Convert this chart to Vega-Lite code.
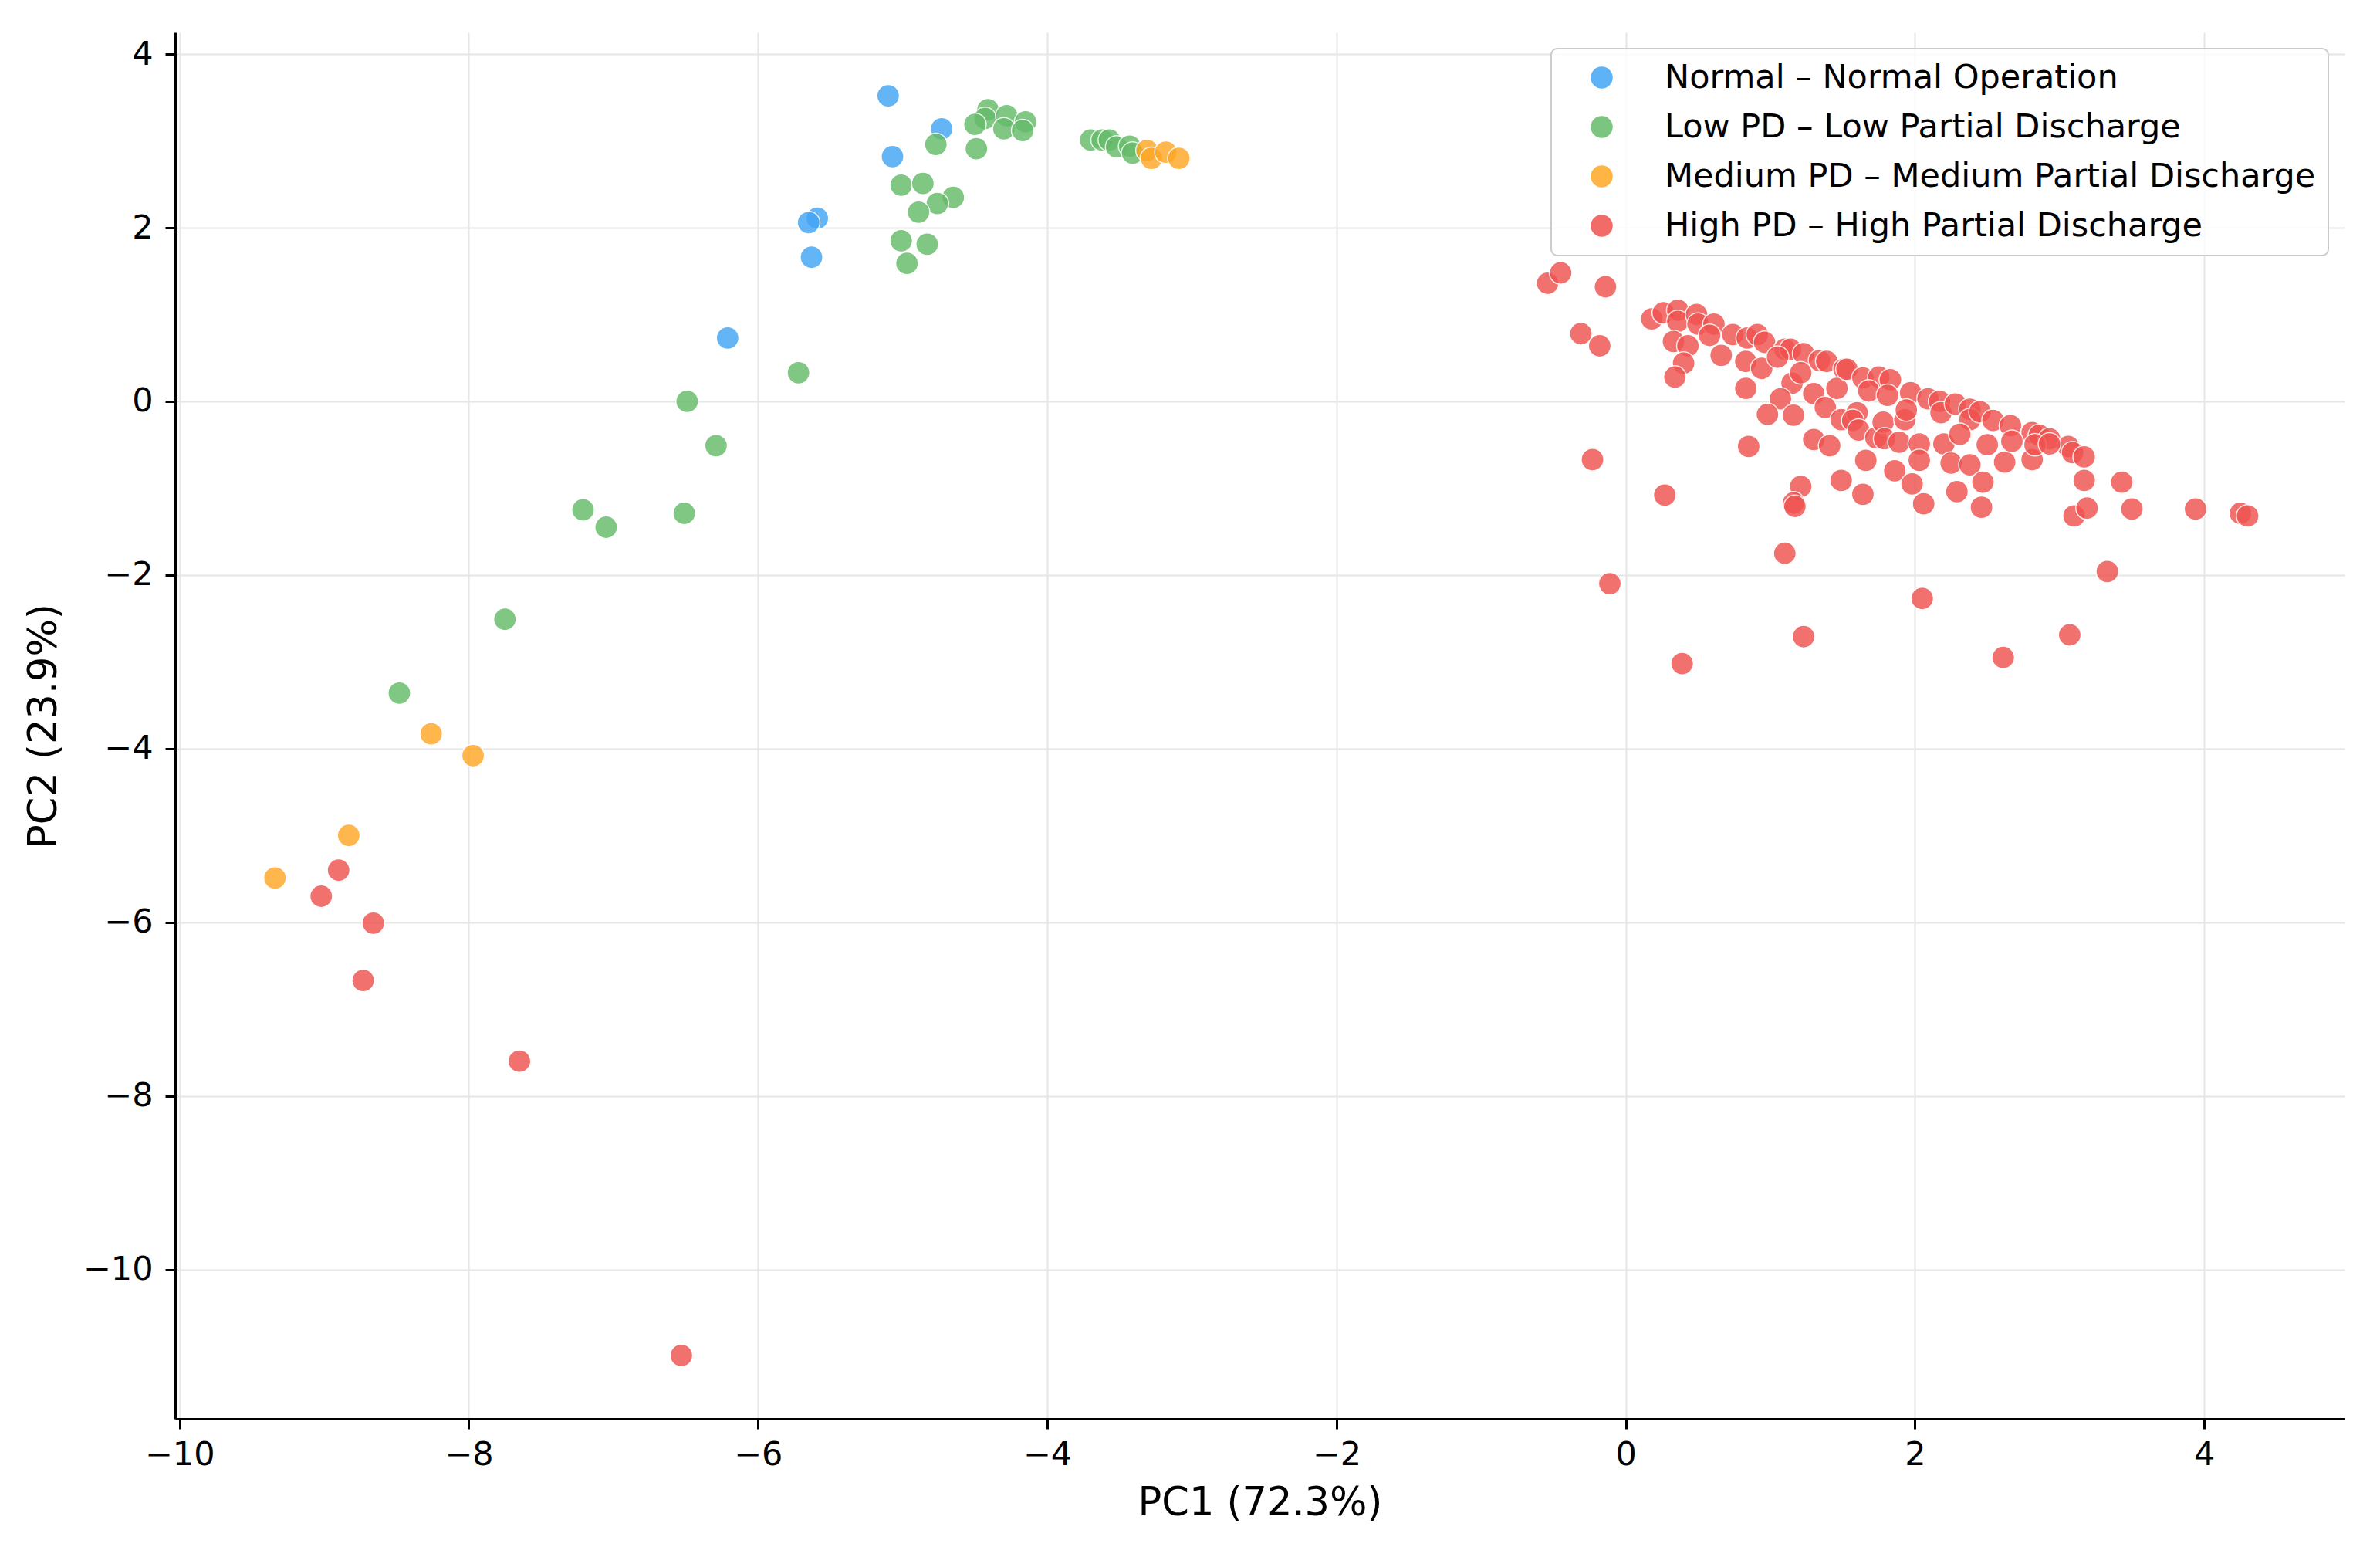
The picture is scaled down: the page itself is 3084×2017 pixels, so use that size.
{
  "$schema": "https://vega.github.io/schema/vega-lite/v6.json",
  "description": "PCA scatter: PC1 vs PC2 by partial discharge class",
  "background": "white",
  "autosize": {"type": "none"},
  "padding": {"left": 227, "top": 42, "right": 46, "bottom": 179},
  "width": 2811,
  "height": 1796,
  "config": {
    "font": "DejaVu Sans",
    "view": {"stroke": null},
    "axis": {
      "grid": true,
      "gridColor": "#e6e6e6",
      "gridWidth": 2,
      "domainColor": "#000000",
      "domainWidth": 3,
      "tickColor": "#000000",
      "tickWidth": 3,
      "tickSize": 13,
      "labelFontSize": 43,
      "labelColor": "#000000",
      "labelFlush": false,
      "titleFontSize": 51,
      "titleFontWeight": "normal",
      "titleColor": "#000000"
    }
  },
  "data": {
    "values": [
      {"x": -5.10, "y": 3.52, "c": "Normal – Normal Operation"},
      {"x": -4.73, "y": 3.14, "c": "Normal – Normal Operation"},
      {"x": -5.07, "y": 2.82, "c": "Normal – Normal Operation"},
      {"x": -5.59, "y": 2.11, "c": "Normal – Normal Operation"},
      {"x": -5.65, "y": 2.06, "c": "Normal – Normal Operation"},
      {"x": -5.63, "y": 1.66, "c": "Normal – Normal Operation"},
      {"x": -6.21, "y": 0.73, "c": "Normal – Normal Operation"},

      {"x": -4.41, "y": 3.36, "c": "Low PD – Low Partial Discharge"},
      {"x": -4.43, "y": 3.26, "c": "Low PD – Low Partial Discharge"},
      {"x": -4.28, "y": 3.29, "c": "Low PD – Low Partial Discharge"},
      {"x": -4.15, "y": 3.22, "c": "Low PD – Low Partial Discharge"},
      {"x": -4.50, "y": 3.19, "c": "Low PD – Low Partial Discharge"},
      {"x": -4.30, "y": 3.14, "c": "Low PD – Low Partial Discharge"},
      {"x": -4.17, "y": 3.12, "c": "Low PD – Low Partial Discharge"},
      {"x": -4.77, "y": 2.96, "c": "Low PD – Low Partial Discharge"},
      {"x": -4.49, "y": 2.91, "c": "Low PD – Low Partial Discharge"},
      {"x": -3.70, "y": 3.01, "c": "Low PD – Low Partial Discharge"},
      {"x": -3.62, "y": 3.01, "c": "Low PD – Low Partial Discharge"},
      {"x": -3.57, "y": 3.01, "c": "Low PD – Low Partial Discharge"},
      {"x": -3.52, "y": 2.93, "c": "Low PD – Low Partial Discharge"},
      {"x": -3.43, "y": 2.94, "c": "Low PD – Low Partial Discharge"},
      {"x": -3.41, "y": 2.86, "c": "Low PD – Low Partial Discharge"},
      {"x": -5.01, "y": 2.49, "c": "Low PD – Low Partial Discharge"},
      {"x": -4.86, "y": 2.51, "c": "Low PD – Low Partial Discharge"},
      {"x": -4.65, "y": 2.35, "c": "Low PD – Low Partial Discharge"},
      {"x": -4.76, "y": 2.28, "c": "Low PD – Low Partial Discharge"},
      {"x": -4.89, "y": 2.18, "c": "Low PD – Low Partial Discharge"},
      {"x": -5.01, "y": 1.85, "c": "Low PD – Low Partial Discharge"},
      {"x": -4.83, "y": 1.81, "c": "Low PD – Low Partial Discharge"},
      {"x": -4.97, "y": 1.59, "c": "Low PD – Low Partial Discharge"},
      {"x": -5.72, "y": 0.33, "c": "Low PD – Low Partial Discharge"},
      {"x": -6.49, "y": 0.00, "c": "Low PD – Low Partial Discharge"},
      {"x": -6.29, "y": -0.51, "c": "Low PD – Low Partial Discharge"},
      {"x": -7.21, "y": -1.25, "c": "Low PD – Low Partial Discharge"},
      {"x": -7.05, "y": -1.45, "c": "Low PD – Low Partial Discharge"},
      {"x": -6.51, "y": -1.29, "c": "Low PD – Low Partial Discharge"},
      {"x": -7.75, "y": -2.51, "c": "Low PD – Low Partial Discharge"},
      {"x": -8.48, "y": -3.36, "c": "Low PD – Low Partial Discharge"},

      {"x": -3.31, "y": 2.89, "c": "Medium PD – Medium Partial Discharge"},
      {"x": -3.28, "y": 2.80, "c": "Medium PD – Medium Partial Discharge"},
      {"x": -3.18, "y": 2.87, "c": "Medium PD – Medium Partial Discharge"},
      {"x": -3.09, "y": 2.80, "c": "Medium PD – Medium Partial Discharge"},
      {"x": -8.26, "y": -3.83, "c": "Medium PD – Medium Partial Discharge"},
      {"x": -7.97, "y": -4.08, "c": "Medium PD – Medium Partial Discharge"},
      {"x": -8.83, "y": -5.00, "c": "Medium PD – Medium Partial Discharge"},
      {"x": -9.34, "y": -5.49, "c": "Medium PD – Medium Partial Discharge"},

      {"x": -8.90, "y": -5.40, "c": "High PD – High Partial Discharge"},
      {"x": -9.02, "y": -5.70, "c": "High PD – High Partial Discharge"},
      {"x": -8.66, "y": -6.01, "c": "High PD – High Partial Discharge"},
      {"x": -8.73, "y": -6.67, "c": "High PD – High Partial Discharge"},
      {"x": -7.65, "y": -7.60, "c": "High PD – High Partial Discharge"},
      {"x": -6.53, "y": -10.99, "c": "High PD – High Partial Discharge"},
      {"x": -0.54, "y": 1.36, "c": "High PD – High Partial Discharge"},
      {"x": -0.45, "y": 1.48, "c": "High PD – High Partial Discharge"},
      {"x": -0.14, "y": 1.32, "c": "High PD – High Partial Discharge"},
      {"x": -0.31, "y": 0.78, "c": "High PD – High Partial Discharge"},
      {"x": -0.18, "y": 0.64, "c": "High PD – High Partial Discharge"},
      {"x": -0.23, "y": -0.67, "c": "High PD – High Partial Discharge"},
      {"x": -0.11, "y": -2.10, "c": "High PD – High Partial Discharge"},
      {"x": 0.18, "y": 0.95, "c": "High PD – High Partial Discharge"},
      {"x": 0.26, "y": 1.02, "c": "High PD – High Partial Discharge"},
      {"x": 0.36, "y": 1.05, "c": "High PD – High Partial Discharge"},
      {"x": 0.36, "y": 0.92, "c": "High PD – High Partial Discharge"},
      {"x": 0.49, "y": 1.00, "c": "High PD – High Partial Discharge"},
      {"x": 0.50, "y": 0.89, "c": "High PD – High Partial Discharge"},
      {"x": 0.33, "y": 0.69, "c": "High PD – High Partial Discharge"},
      {"x": 0.43, "y": 0.64, "c": "High PD – High Partial Discharge"},
      {"x": 0.40, "y": 0.44, "c": "High PD – High Partial Discharge"},
      {"x": 0.34, "y": 0.28, "c": "High PD – High Partial Discharge"},
      {"x": 0.61, "y": 0.89, "c": "High PD – High Partial Discharge"},
      {"x": 0.58, "y": 0.76, "c": "High PD – High Partial Discharge"},
      {"x": 0.66, "y": 0.53, "c": "High PD – High Partial Discharge"},
      {"x": 0.74, "y": 0.77, "c": "High PD – High Partial Discharge"},
      {"x": 0.84, "y": 0.73, "c": "High PD – High Partial Discharge"},
      {"x": 0.91, "y": 0.77, "c": "High PD – High Partial Discharge"},
      {"x": 0.96, "y": 0.68, "c": "High PD – High Partial Discharge"},
      {"x": 0.83, "y": 0.46, "c": "High PD – High Partial Discharge"},
      {"x": 0.94, "y": 0.38, "c": "High PD – High Partial Discharge"},
      {"x": 0.83, "y": 0.15, "c": "High PD – High Partial Discharge"},
      {"x": 1.10, "y": 0.60, "c": "High PD – High Partial Discharge"},
      {"x": 1.14, "y": 0.60, "c": "High PD – High Partial Discharge"},
      {"x": 1.23, "y": 0.55, "c": "High PD – High Partial Discharge"},
      {"x": 1.34, "y": 0.47, "c": "High PD – High Partial Discharge"},
      {"x": 1.39, "y": 0.46, "c": "High PD – High Partial Discharge"},
      {"x": 1.51, "y": 0.37, "c": "High PD – High Partial Discharge"},
      {"x": 1.05, "y": 0.51, "c": "High PD – High Partial Discharge"},
      {"x": 1.15, "y": 0.21, "c": "High PD – High Partial Discharge"},
      {"x": 1.21, "y": 0.33, "c": "High PD – High Partial Discharge"},
      {"x": 1.30, "y": 0.09, "c": "High PD – High Partial Discharge"},
      {"x": 1.46, "y": 0.15, "c": "High PD – High Partial Discharge"},
      {"x": 1.07, "y": 0.03, "c": "High PD – High Partial Discharge"},
      {"x": 0.98, "y": -0.15, "c": "High PD – High Partial Discharge"},
      {"x": 1.16, "y": -0.16, "c": "High PD – High Partial Discharge"},
      {"x": 1.38, "y": -0.07, "c": "High PD – High Partial Discharge"},
      {"x": 1.49, "y": -0.21, "c": "High PD – High Partial Discharge"},
      {"x": 1.30, "y": -0.44, "c": "High PD – High Partial Discharge"},
      {"x": 1.41, "y": -0.51, "c": "High PD – High Partial Discharge"},
      {"x": 0.85, "y": -0.52, "c": "High PD – High Partial Discharge"},
      {"x": 0.27, "y": -1.08, "c": "High PD – High Partial Discharge"},
      {"x": 1.21, "y": -0.98, "c": "High PD – High Partial Discharge"},
      {"x": 1.49, "y": -0.91, "c": "High PD – High Partial Discharge"},
      {"x": 1.53, "y": 0.37, "c": "High PD – High Partial Discharge"},
      {"x": 1.64, "y": 0.27, "c": "High PD – High Partial Discharge"},
      {"x": 1.75, "y": 0.28, "c": "High PD – High Partial Discharge"},
      {"x": 1.83, "y": 0.25, "c": "High PD – High Partial Discharge"},
      {"x": 1.68, "y": 0.12, "c": "High PD – High Partial Discharge"},
      {"x": 1.81, "y": 0.07, "c": "High PD – High Partial Discharge"},
      {"x": 1.97, "y": 0.10, "c": "High PD – High Partial Discharge"},
      {"x": 2.09, "y": 0.03, "c": "High PD – High Partial Discharge"},
      {"x": 2.17, "y": 0.00, "c": "High PD – High Partial Discharge"},
      {"x": 2.18, "y": -0.13, "c": "High PD – High Partial Discharge"},
      {"x": 2.28, "y": -0.03, "c": "High PD – High Partial Discharge"},
      {"x": 2.38, "y": -0.09, "c": "High PD – High Partial Discharge"},
      {"x": 2.38, "y": -0.21, "c": "High PD – High Partial Discharge"},
      {"x": 2.45, "y": -0.12, "c": "High PD – High Partial Discharge"},
      {"x": 2.54, "y": -0.22, "c": "High PD – High Partial Discharge"},
      {"x": 2.66, "y": -0.28, "c": "High PD – High Partial Discharge"},
      {"x": 2.81, "y": -0.36, "c": "High PD – High Partial Discharge"},
      {"x": 2.86, "y": -0.39, "c": "High PD – High Partial Discharge"},
      {"x": 2.93, "y": -0.43, "c": "High PD – High Partial Discharge"},
      {"x": 3.06, "y": -0.52, "c": "High PD – High Partial Discharge"},
      {"x": 3.09, "y": -0.59, "c": "High PD – High Partial Discharge"},
      {"x": 3.17, "y": -0.64, "c": "High PD – High Partial Discharge"},
      {"x": 1.60, "y": -0.13, "c": "High PD – High Partial Discharge"},
      {"x": 1.57, "y": -0.22, "c": "High PD – High Partial Discharge"},
      {"x": 1.61, "y": -0.33, "c": "High PD – High Partial Discharge"},
      {"x": 1.73, "y": -0.42, "c": "High PD – High Partial Discharge"},
      {"x": 1.78, "y": -0.24, "c": "High PD – High Partial Discharge"},
      {"x": 1.93, "y": -0.21, "c": "High PD – High Partial Discharge"},
      {"x": 1.94, "y": -0.10, "c": "High PD – High Partial Discharge"},
      {"x": 1.79, "y": -0.43, "c": "High PD – High Partial Discharge"},
      {"x": 1.89, "y": -0.47, "c": "High PD – High Partial Discharge"},
      {"x": 2.03, "y": -0.49, "c": "High PD – High Partial Discharge"},
      {"x": 2.03, "y": -0.68, "c": "High PD – High Partial Discharge"},
      {"x": 1.66, "y": -0.68, "c": "High PD – High Partial Discharge"},
      {"x": 1.86, "y": -0.80, "c": "High PD – High Partial Discharge"},
      {"x": 1.98, "y": -0.95, "c": "High PD – High Partial Discharge"},
      {"x": 2.06, "y": -1.18, "c": "High PD – High Partial Discharge"},
      {"x": 1.64, "y": -1.07, "c": "High PD – High Partial Discharge"},
      {"x": 2.20, "y": -0.49, "c": "High PD – High Partial Discharge"},
      {"x": 2.25, "y": -0.71, "c": "High PD – High Partial Discharge"},
      {"x": 2.31, "y": -0.38, "c": "High PD – High Partial Discharge"},
      {"x": 2.38, "y": -0.73, "c": "High PD – High Partial Discharge"},
      {"x": 2.50, "y": -0.50, "c": "High PD – High Partial Discharge"},
      {"x": 2.29, "y": -1.04, "c": "High PD – High Partial Discharge"},
      {"x": 2.47, "y": -0.93, "c": "High PD – High Partial Discharge"},
      {"x": 2.46, "y": -1.22, "c": "High PD – High Partial Discharge"},
      {"x": 2.62, "y": -0.70, "c": "High PD – High Partial Discharge"},
      {"x": 2.67, "y": -0.46, "c": "High PD – High Partial Discharge"},
      {"x": 2.81, "y": -0.67, "c": "High PD – High Partial Discharge"},
      {"x": 2.83, "y": -0.50, "c": "High PD – High Partial Discharge"},
      {"x": 2.93, "y": -0.49, "c": "High PD – High Partial Discharge"},
      {"x": 3.17, "y": -0.91, "c": "High PD – High Partial Discharge"},
      {"x": 3.43, "y": -0.93, "c": "High PD – High Partial Discharge"},
      {"x": 3.10, "y": -1.32, "c": "High PD – High Partial Discharge"},
      {"x": 3.19, "y": -1.23, "c": "High PD – High Partial Discharge"},
      {"x": 3.50, "y": -1.24, "c": "High PD – High Partial Discharge"},
      {"x": 3.94, "y": -1.24, "c": "High PD – High Partial Discharge"},
      {"x": 4.25, "y": -1.29, "c": "High PD – High Partial Discharge"},
      {"x": 4.30, "y": -1.32, "c": "High PD – High Partial Discharge"},
      {"x": 3.33, "y": -1.96, "c": "High PD – High Partial Discharge"},
      {"x": 0.39, "y": -3.02, "c": "High PD – High Partial Discharge"},
      {"x": 1.10, "y": -1.75, "c": "High PD – High Partial Discharge"},
      {"x": 1.23, "y": -2.71, "c": "High PD – High Partial Discharge"},
      {"x": 1.16, "y": -1.17, "c": "High PD – High Partial Discharge"},
      {"x": 1.17, "y": -1.21, "c": "High PD – High Partial Discharge"},
      {"x": 2.05, "y": -2.27, "c": "High PD – High Partial Discharge"},
      {"x": 2.61, "y": -2.95, "c": "High PD – High Partial Discharge"},
      {"x": 3.07, "y": -2.69, "c": "High PD – High Partial Discharge"}
    ]
  },
  "mark": {
    "type": "point",
    "shape": "circle",
    "filled": true,
    "size": 860,
    "opacity": 0.82,
    "stroke": "white",
    "strokeWidth": 1.5
  },
  "encoding": {
    "x": {
      "field": "x",
      "type": "quantitative",
      "title": "PC1 (72.3%)",
      "scale": {"domain": [-10.03, 4.97], "nice": false, "zero": false},
      "axis": {"values": [-10, -8, -6, -4, -2, 0, 2, 4], "labelPadding": 12, "titlePadding": 16}
    },
    "y": {
      "field": "y",
      "type": "quantitative",
      "title": "PC2 (23.9%)",
      "scale": {"domain": [-11.72, 4.25], "nice": false, "zero": false},
      "axis": {"values": [-10, -8, -6, -4, -2, 0, 2, 4], "labelPadding": 16, "titlePadding": 24}
    },
    "color": {
      "field": "c",
      "type": "nominal",
      "scale": {
        "domain": [
          "Normal – Normal Operation",
          "Low PD – Low Partial Discharge",
          "Medium PD – Medium Partial Discharge",
          "High PD – High Partial Discharge"
        ],
        "range": ["#42A5F5", "#66BB6A", "#FFA726", "#EF5350"]
      },
      "legend": {
        "title": null,
        "orient": "top-right",
        "offset": 21,
        "padding": 16,
        "fillColor": "rgba(255,255,255,0.8)",
        "strokeColor": "#cccccc",
        "cornerRadius": 8,
        "labelFontSize": 43,
        "labelColor": "#000000",
        "labelLimit": 0,
        "labelOffset": 60,
        "rowPadding": 20,
        "symbolType": "circle",
        "symbolSize": 900,
        "symbolOffset": 28,
        "symbolOpacity": 0.85,
        "symbolStrokeColor": "white",
        "symbolStrokeWidth": 1.5,
        "encode": {"legend": {"update": {"strokeWidth": {"value": 2}}}}
      }
    }
  }
}
